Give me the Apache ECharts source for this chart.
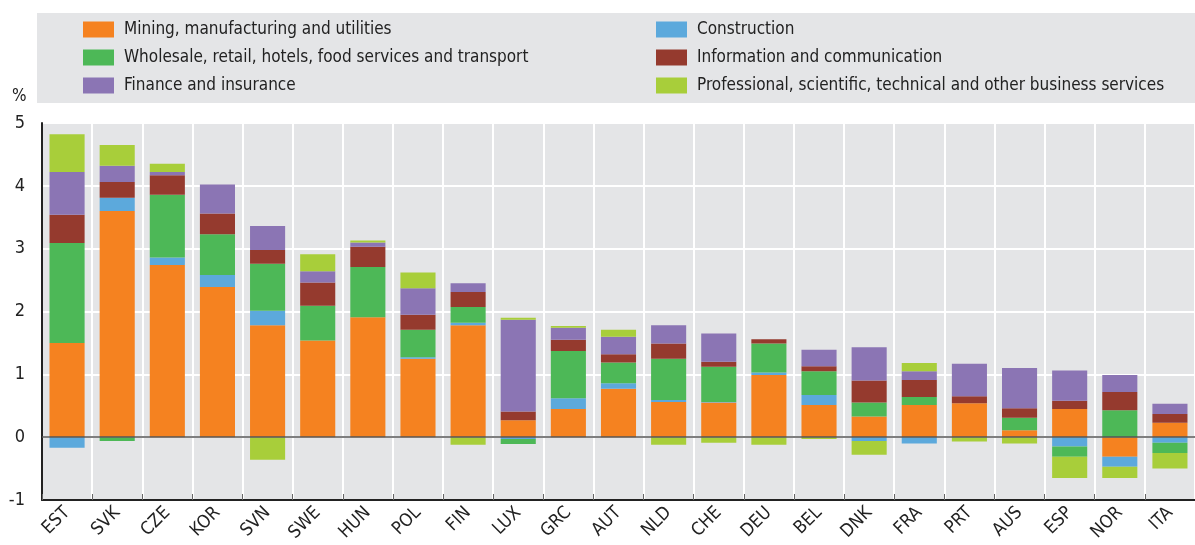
<!DOCTYPE html>
<html>
<head>
<meta charset="utf-8">
<script src="https://cdn.jsdelivr.net/npm/echarts@6/dist/echarts.min.js"></script>
<style>
  html, body { margin: 0; padding: 0; background: #fff; }
  #chart { width: 1195px; height: 545px; }
</style>
</head>
<body>
<div id="chart"></div>
<script>
const FONT = "'DejaVu Sans Condensed', 'Liberation Sans Narrow', sans-serif";

const countries = ["EST", "SVK", "CZE", "KOR", "SVN", "SWE", "HUN", "POL", "FIN", "LUX", "GRC", "AUT",
  "NLD", "CHE", "DEU", "BEL", "DNK", "FRA", "PRT", "AUS", "ESP", "NOR", "ITA"];

// contributions, percentage points
const mining = [1.50, 3.60, 2.74, 2.39, 1.78, 1.54, 1.91, 1.25, 1.78, 0.27, 0.45, 0.77,
  0.56, 0.55, 0.99, 0.51, 0.33, 0.51, 0.54, 0.11, 0.45, -0.31, 0.23];
const construction = [-0.17, 0.21, 0.12, 0.19, 0.23, 0, 0, 0.02, 0.04, -0.03, 0.17, 0.09,
  0.03, 0.01, 0.04, 0.16, -0.06, -0.10, 0, 0, -0.15, -0.16, -0.09];
const wholesale = [1.59, -0.06, 1.00, 0.65, 0.75, 0.55, 0.80, 0.44, 0.25, -0.08, 0.75, 0.33,
  0.66, 0.56, 0.46, 0.38, 0.22, 0.13, 0, 0.20, -0.16, 0.43, -0.16];
const infoComm = [0.45, 0.25, 0.31, 0.33, 0.22, 0.37, 0.32, 0.24, 0.24, 0.14, 0.18, 0.13,
  0.24, 0.08, 0.07, 0.08, 0.35, 0.27, 0.11, 0.15, 0.13, 0.29, 0.14];
const finance = [0.68, 0.26, 0.05, 0.46, 0.38, 0.18, 0.07, 0.42, 0.14, 1.46, 0.19, 0.28,
  0.29, 0.45, 0, 0.26, 0.53, 0.14, 0.52, 0.64, 0.48, 0.27, 0.16];
const professional = [0.60, 0.33, 0.13, 0, -0.36, 0.27, 0.03, 0.25, -0.12, 0.03, 0.03, 0.11,
  -0.12, -0.09, -0.12, -0.03, -0.22, 0.13, -0.07, -0.10, -0.34, -0.18, -0.25];

const yTicks = [-1, 0, 1, 2, 3, 4, 5];

const chart = echarts.init(document.getElementById("chart"));

function bar(name, data, color) {
  return {
    name: name,
    type: "bar",
    stack: "total",
    barWidth: "70%",
    data: data,
    itemStyle: { color: color },
  };
}

const series = [
  bar("Mining, manufacturing and utilities", mining, "#f58220"),
  bar("Construction", construction, "#5ca9dc"),
  bar("Wholesale, retail, hotels, food services and transport", wholesale, "#4db857"),
  bar("Information and communication", infoComm, "#953a2e"),
  bar("Finance and insurance", finance, "#8b75b4"),
  bar("Professional, scientific, technical and other business services", professional, "#a8ce3a"),
];
// zero line
series[0].markLine = {
  silent: true,
  symbol: "none",
  label: { show: false },
  lineStyle: { color: "#555", width: 1.5, type: "solid" },
  data: [{ yAxis: 0 }],
};

const legendText = { fontFamily: FONT, fontSize: 17, color: "#222", padding: [0, 0, 0, 5] };

chart.setOption({
  animation: false,
  textStyle: { fontFamily: FONT },
  graphic: [
    { type: "rect", left: 37, top: 13, shape: { width: 1158, height: 90 }, style: { fill: "#e4e5e7" }, z: -1 },
    { type: "text", left: 12, top: 88, style: { text: "%", font: "17px " + FONT, fill: "#222" } },
  ],
  legend: [
    {
      left: 78, top: 16, orient: "vertical", itemWidth: 31, itemHeight: 16, itemGap: 11,
      textStyle: legendText, icon: "rect", selectedMode: false,
      data: [series[0].name, series[2].name, series[4].name],
    },
    {
      left: 651, top: 16, orient: "vertical", itemWidth: 31, itemHeight: 16, itemGap: 11,
      textStyle: legendText, icon: "rect", selectedMode: false,
      data: [series[1].name, series[3].name, series[5].name],
    },
  ],
  grid: {
    left: 42, right: 0, top: 123, bottom: 45,
    show: true, backgroundColor: "#e4e5e7", borderWidth: 0,
  },
  xAxis: {
    type: "category",
    data: countries,
    axisLine: { onZero: false, lineStyle: { color: "#222", width: 2 } },
    axisTick: { show: true, inside: true, length: 6, lineStyle: { color: "#666" } },
    splitLine: { show: true, lineStyle: { color: "#fff", width: 2 } },
    axisLabel: {
      rotate: 45, fontSize: 18, color: "#222", fontFamily: FONT, margin: 10, interval: 0,
      hideOverlap: false,
    },
  },
  yAxis: {
    type: "value",
    min: yTicks[0],
    max: yTicks[yTicks.length - 1],
    interval: 1,
    axisLine: { show: true, lineStyle: { color: "#222", width: 2 } },
    axisTick: { show: false },
    splitLine: { lineStyle: { color: "#fff", width: 2 } },
    axisLabel: { fontSize: 18, color: "#222", fontFamily: FONT, margin: 17 },
  },
  series: series,
});
</script>
</body>
</html>
